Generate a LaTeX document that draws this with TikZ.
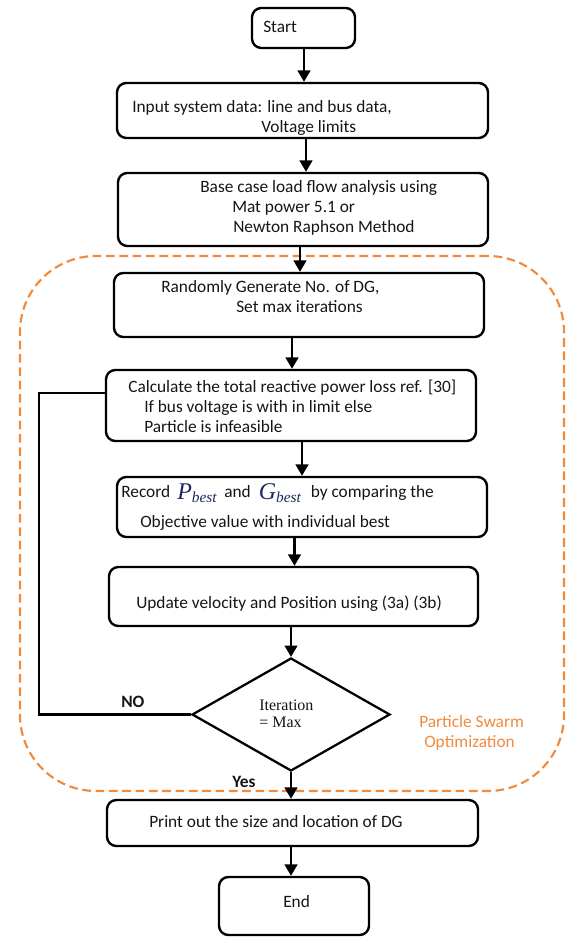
\documentclass[tikz,border=0pt]{standalone}
\usepackage{fontspec}
\setmainfont{Carlito}
\newfontfamily\serifc{Liberation Serif}
\usetikzlibrary{shapes.geometric,arrows.meta,fit}
\definecolor{psoorange}{HTML}{F08A3C}
\definecolor{txt}{HTML}{151515}
\definecolor{eqblue}{HTML}{1C2B5E}
\newcommand{\symP}{{\color{eqblue}\raisebox{-1.5pt}{\serifc\itshape\fontsize{18}{18}\selectfont P}\raisebox{-4pt}{\serifc\itshape\fontsize{11.5}{11.5}\selectfont best}}}
\newcommand{\symG}{{\color{eqblue}\raisebox{-1.5pt}{\serifc\itshape\fontsize{18}{18}\selectfont G}\raisebox{-4pt}{\serifc\itshape\fontsize{11.5}{11.5}\selectfont best}}}
\begin{document}
\begin{tikzpicture}[x=0.75pt,y=-0.75pt,
  box/.style={draw, line width=1.8pt, rounded corners=7pt, inner sep=0pt},
  decision/.style={draw, diamond, line width=1.7pt, inner sep=0pt, minimum width=148.5pt, minimum height=84.75pt},
  psobox/.style={draw=psoorange, line width=1.6pt, dash pattern=on 6.5pt off 3.5pt, rounded corners=57pt, inner sep=0pt},
  arr/.style={line width=1.7pt, -{Triangle[length=8.5pt,width=9.5pt]}},
  conn/.style={line width=1.7pt},
  lbl/.style={anchor=base west, inner sep=0pt, text=txt, font=\fontsize{13}{15}\selectfont},
  bold/.style={lbl, font=\fontsize{13}{15}\selectfont\bfseries},
  serl/.style={lbl, font=\serifc\fontsize{12}{13}\selectfont},
  psol/.style={lbl, text=psoorange}
]
\useasboundingbox (0,0) rectangle (565,937);

% PSO region
\node[psobox, fit={(20,256)(564,791)}] (pso) {};

% boxes
\node[box, fit={(252,8)(355,48)}] (start) {};
\node[box, fit={(117,83)(488,138)}] (input) {};
\node[box, fit={(118,173)(488,246)}] (base) {};
\node[box, fit={(114,273)(484,337)}] (rand) {};
\node[box, fit={(106,370)(476,441)}] (calc) {};
\node[box, fit={(117,477)(487,537)}] (rec) {};
\node[box, fit={(109,567)(478,626)}] (upd) {};
\node[decision] (dia) at (291,714.5) {};
\node[box, fit={(107,800)(478,846)}] (prt) {};
\node[box, fit={(219,877)(369,935)}] (fin) {};

% texts
\node[lbl] (tstart) at (263,33) {Start};
\node[lbl] (tin1) at (132,113) {Input system data: line and bus data,};
\node[lbl] (tin2) at (261,133) {Voltage limits};
\node[lbl] (tb1) at (200,193) {Base case load flow analysis using};
\node[lbl] (tb2) at (232,213) {Mat power 5.1 or};
\node[lbl] (tb3) at (233,233) {Newton Raphson Method};
\node[lbl] (tr1) at (161,293) {Randomly Generate No. of DG,};
\node[lbl] (tr2) at (236,313) {Set max iterations};
\node[lbl] (tc1) at (128,392) {Calculate the total reactive power loss ref. [30]};
\node[lbl] (tc2) at (144,412) {If bus voltage is with in limit else};
\node[lbl] (tc3) at (144,432) {Particle is infeasible};
\node[lbl] (trc1a) at (121,497) {Record};
\node[lbl] (trc1b) at (177,497) {\symP};
\node[lbl] (trc1c) at (224,497) {and};
\node[lbl] (trc1d) at (258.5,497) {\symG};
\node[lbl] (trc1e) at (310.5,497) {by comparing the};
\node[lbl] (trc2) at (140,527) {Objective value with individual best};
\node[lbl] (tu) at (136,608) {Update velocity and Position using (3a) (3b)};
\node[serl] (td1) at (259,710) {Iteration};
\node[serl] (td2) at (259,727) {= Max};
\node[bold] (tno) at (121,707) {NO};
\node[bold] (tyes) at (232,787) {Yes};
\node[lbl] (tp) at (149,827) {Print out the size and location of DG};
\node[lbl] (tend) at (283,907) {End};
\node[psol] (tpso1) at (419,727) {Particle Swarm};
\node[psol] (tpso2) at (424,747) {Optimization};

% connector x positions
\coordinate (x1) at (304,0);
\coordinate (x2) at (306,0);
\coordinate (x3) at (300,0);
\coordinate (x4) at (292,0);
\coordinate (x5) at (302,0);
\coordinate (x6) at (294.5,0);
\coordinate (x7) at (291,0);
\coordinate (lp0) at (39,714.5);
\coordinate (lp1) at (39,393);

\draw[arr] (start.south -| x1) -- (input.north -| x1);
\draw[arr] (input.south -| x2) -- (base.north -| x2);
\draw[arr] (base.south -| x3) -- (rand.north -| x3);
\draw[arr] (rand.south -| x4) -- (calc.north -| x4);
\draw[arr] (calc.south -| x5) -- (rec.north -| x5);
\draw[arr] (rec.south -| x6) -- (upd.north -| x6);
\draw[arr] (upd.south -| x7) -- (dia.north);
\draw[arr] (dia.south) -- (prt.north -| x7);
\draw[arr] (prt.south -| x7) -- (fin.north -| x7);
\draw[conn] (dia.west) -- (lp0) -- (lp1) -- (calc.west |- lp1);
\end{tikzpicture}
\end{document}
